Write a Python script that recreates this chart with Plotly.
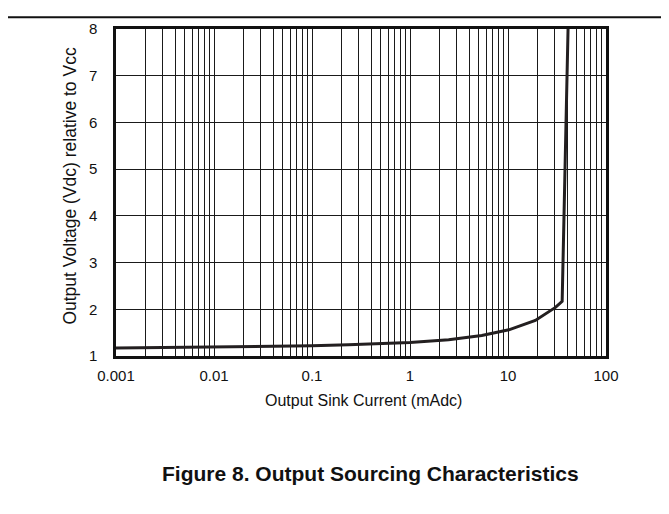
import plotly.graph_objects as go

# Data
current_mA = [0.001, 0.01, 0.1, 0.235, 1.0, 2.48, 5.4, 10.2, 19.0, 30.5, 35.7, 41.0]
voltage_v = [1.17, 1.19, 1.22, 1.24, 1.29, 1.35, 1.44, 1.56, 1.76, 2.04, 2.17, 8.0]

decades = [0.001, 0.01, 0.1, 1, 10, 100]
decade_labels = ["0.001", "0.01", "0.1", "1", "10", "100"]
minor_multipliers = [2, 3, 4, 5, 6, 7, 8, 9]
y_ticks = [1, 2, 3, 4, 5, 6, 7, 8]

grid_vals = []
grid_text = []
for d, lab in zip(decades, decade_labels):
    grid_vals.append(d)
    grid_text.append(lab)
    if d < 100:
        for m in minor_multipliers:
            grid_vals.append(d * m)
            grid_text.append("")

FONT = "Liberation Sans, Arial, sans-serif"

fig = go.Figure()
fig.add_trace(go.Scatter(
    x=current_mA, y=voltage_v, mode="lines",
    line=dict(color="#231f20", width=3),
    showlegend=False, hoverinfo="skip",
))

fig.update_xaxes(
    type="log", range=[-3, 2],
    tickvals=grid_vals, ticktext=grid_text,
    showgrid=True, gridcolor="#1a1a1a", gridwidth=1,
    showline=True, linecolor="#111111", linewidth=2.5, mirror=True,
    ticks="", ticklabelstandoff=4,
    tickfont=dict(family=FONT, size=15, color="#111"),
    zeroline=False,
)
fig.update_yaxes(
    range=[1, 8], tickvals=y_ticks,
    showgrid=True, gridcolor="#1a1a1a", gridwidth=1,
    showline=True, linecolor="#111111", linewidth=2.5, mirror=True,
    ticks="", ticklabelstandoff=13,
    tickfont=dict(family=FONT, size=15, color="#111"),
    zeroline=False,
)

L, R, T, B = 108, 598, 16, 348
W, H = 669, 514
pw, ph = R - L, B - T

def px(x):
    return (x - L) / pw

def py(y):
    return (B - y) / ph

fig.update_layout(
    width=W, height=H,
    margin=dict(l=L, r=W - R, t=T, b=H - B, pad=0),
    paper_bgcolor="white", plot_bgcolor="white",
    font=dict(family=FONT, color="#111"),
    shapes=[dict(type="line", xref="paper", yref="paper",
                 x0=px(0), x1=px(W), y0=py(4), y1=py(4),
                 line=dict(color="#111", width=2))],
    annotations=[
        dict(text="Output Sink Current (mAdc)", xref="paper", yref="paper",
             x=px(355), y=py(393), showarrow=False,
             font=dict(family=FONT, size=16, color="#111"),
             xanchor="center", yanchor="middle"),
        dict(text="Output Voltage (Vdc) relative to Vcc", xref="paper", yref="paper",
             x=px(62), y=py(176), showarrow=False, textangle=-90,
             font=dict(family=FONT, size=17.5, color="#111"),
             xanchor="center", yanchor="middle"),
        dict(text="<b>Figure 8. Output Sourcing Characteristics</b>", xref="paper", yref="paper",
             x=px(362), y=py(467), showarrow=False,
             font=dict(family=FONT, size=21, color="#111"),
             xanchor="center", yanchor="middle"),
    ],
)

fig.write_html("out.html")
